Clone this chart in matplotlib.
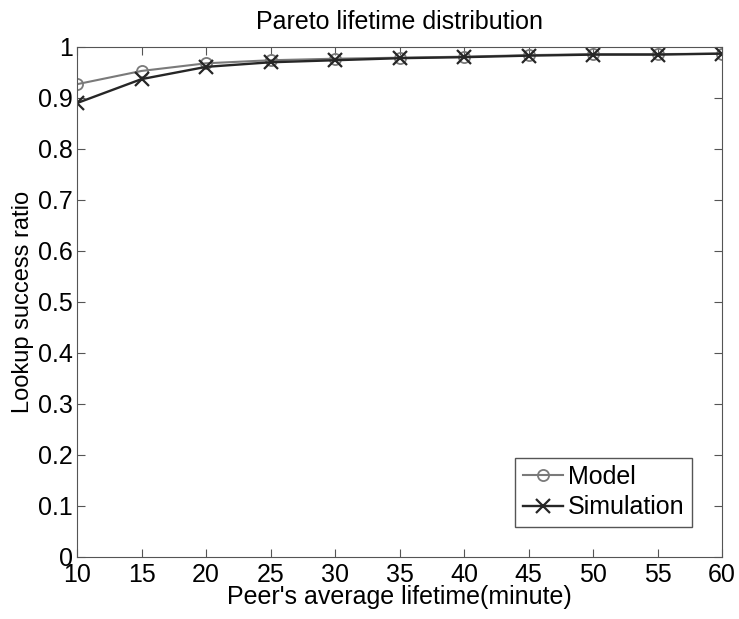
import matplotlib.pyplot as plt

# Lookup success ratio vs peer average lifetime
lifetime = [10, 15, 20, 25, 30, 35, 40, 45, 50, 55, 60]
model = [0.927, 0.953, 0.968, 0.974, 0.977, 0.979, 0.981, 0.984, 0.986, 0.986, 0.987]
simulation = [0.890, 0.937, 0.961, 0.970, 0.974, 0.978, 0.980, 0.983, 0.985, 0.985, 0.987]

yticks = [0, 0.1, 0.2, 0.3, 0.4, 0.5, 0.6, 0.7, 0.8, 0.9, 1]
ylabels = ['0', '0.1', '0.2', '0.3', '0.4', '0.5', '0.6', '0.7', '0.8', '0.9', '1']

plt.rcParams['font.family'] = ['Liberation Sans', 'DejaVu Sans']

fig = plt.figure(figsize=(7.39, 6.19), dpi=100)
ax = fig.add_axes([0.1042, 0.1002, 0.8728, 0.8239])

ax.plot(lifetime, model, color='#7a7a7a', marker='o', markersize=8,
        markerfacecolor='none', markeredgewidth=1.3, linewidth=1.5, label='Model')
ax.plot(lifetime, simulation, color='#262626', marker='x', markersize=10,
        markeredgewidth=1.6, linewidth=1.7, label='Simulation')

ax.set_xlim(10, 60)
ax.set_ylim(0, 1)
ax.set_xticks(lifetime)
ax.set_yticks(yticks)
ax.set_yticklabels(ylabels)
ax.tick_params(direction='in', top=True, right=True, labelsize=18, length=6,
               color='#555555')
ax.tick_params(axis='x', pad=4)
ax.tick_params(axis='y', pad=3)
for s in ax.spines.values():
    s.set_color('#555555')

ax.set_xlabel("Peer's average lifetime(minute)", fontsize=18, labelpad=-1)
ax.set_ylabel('Lookup success ratio', fontsize=17, labelpad=3)
ax.set_title('Pareto lifetime distribution', fontsize=18, pad=13)

leg = ax.legend(loc='lower right', fontsize=18, fancybox=False, framealpha=1,
                edgecolor='#555555', handlelength=1.6, handletextpad=0.2,
                borderaxespad=1.2, labelspacing=0.25, borderpad=0.3)

fig.savefig('out.png', dpi=100)
